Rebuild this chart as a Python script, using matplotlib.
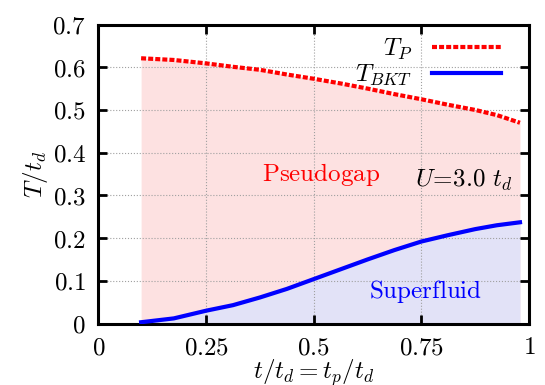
import numpy as np
import matplotlib.pyplot as plt

plt.rcParams['mathtext.fontset'] = 'cm'
plt.rcParams['font.family'] = 'serif'
plt.rcParams['font.serif'] = ['DejaVu Serif']

# === data ===
t = [0.099, 0.175, 0.25, 0.3125, 0.375, 0.4375, 0.5, 0.5625, 0.625,
     0.6875, 0.75, 0.8125, 0.875, 0.925, 0.979]
T_P = [0.621, 0.617, 0.609, 0.601, 0.594, 0.583, 0.573, 0.562, 0.550,
       0.537, 0.525, 0.512, 0.500, 0.488, 0.470]
T_BKT = [0.003, 0.012, 0.030, 0.043, 0.061, 0.081, 0.104, 0.127, 0.150,
         0.172, 0.192, 0.207, 0.221, 0.230, 0.237]

xticks = [0, 0.25, 0.5, 0.75, 1]
xticklabels = ['0', '0.25', '0.5', '0.75', '1']
yticks = [0, 0.1, 0.2, 0.3, 0.4, 0.5, 0.6, 0.7]
yticklabels = ['0', '0.1', '0.2', '0.3', '0.4', '0.5', '0.6', '0.7']

fig = plt.figure(figsize=(5.45, 3.85), dpi=100)
ax = fig.add_axes([0.1807, 0.1597, 0.790, 0.7766])

# fills
ax.fill_between(t, 0, T_P, color='#fde1e1', lw=0, zorder=1)
ax.fill_between(t, 0, T_BKT, color='#e2e2f7', lw=0, zorder=1)

# curves
ax.plot(t, T_P, color='red', ls=(0, (1.2, 0.5)), lw=3, label=r'$T_P$', zorder=3)
ax.plot(t, T_BKT, color='blue', lw=3, label=r'$T_{BKT}$', zorder=3)

ax.text(0.517, 0.350, r'$\mathrm{Pseudogap}$', color='red', fontsize=18, ha='center', va='center')
ax.text(0.961, 0.336, r'$U\!=\!3.0\ t_d$', color='black', fontsize=18, ha='right', va='center')
ax.text(0.760, 0.074, r'$\mathrm{Superfluid}$', color='blue', fontsize=18, ha='center', va='center')

ax.set_xlim(0, 1)
ax.set_ylim(0, 0.7)
ax.set_xticks(xticks)
ax.set_xticklabels(['$' + s + '$' for s in xticklabels], fontsize=18)
ax.set_yticks(yticks)
ax.set_yticklabels(['$' + s + '$' for s in yticklabels], fontsize=18)
ax.tick_params(direction='in', top=True, right=True, length=6.5, width=2, pad=9)
ax.grid(True, color='#a0a0a0', ls=':', lw=0.8)
for s in ax.spines.values():
    s.set_linewidth(2.2)

ax.set_xlabel(r'$t/t_d=t_p/t_d$', fontsize=18, labelpad=-1)
ax.set_ylabel(r'$T/t_d$', fontsize=18, labelpad=2)

leg = ax.legend(loc='upper right', bbox_to_anchor=(0.965, 1.0), frameon=False,
                markerfirst=False, fontsize=18, handlelength=2.76,
                borderaxespad=0.3, borderpad=0.2, labelspacing=0.0, handletextpad=0.8)

fig.savefig('out.png', dpi=100)
